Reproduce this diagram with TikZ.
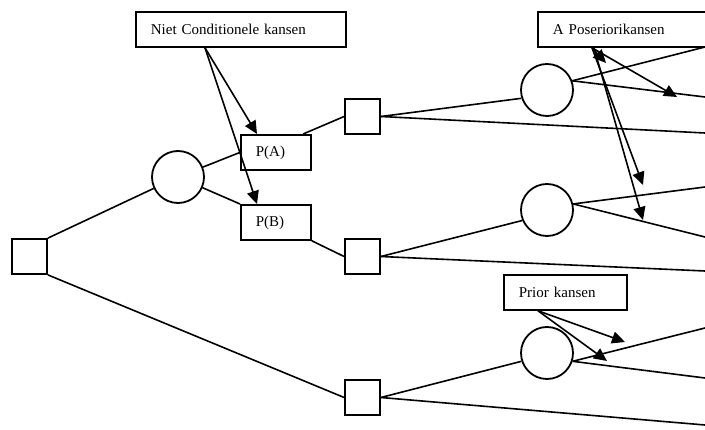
\documentclass[tikz,border=0pt]{standalone}
\usepackage{fontspec}
\setmainfont{Liberation Serif}
\usetikzlibrary{arrows.meta,calc}
\begin{document}
\begin{tikzpicture}[x=1pt,y=-1pt,
        lijn/.style={line width=1.6pt},
        beslis/.style={draw,line width=1.8pt,minimum size=35pt,inner sep=0pt},
        kans/.style={draw,circle,line width=1.8pt,minimum size=52pt,inner sep=0pt},
        kader/.style={draw,line width=1.8pt,minimum height=35pt,inner xsep=15pt,
            inner ysep=0pt,align=left,anchor=north west,
            font=\fontsize{15}{18}\selectfont},
        pijl/.style={line width=1.6pt,-{Triangle[length=13pt,width=12pt]}}]
    \useasboundingbox (0,0) rectangle (705,430);
    \clip (0,0) rectangle (705,430);
    % beslissingen en kansknopen
    \node[beslis] (root) at (29.5,256.5) {};
    \node[kans] (c1) at (178,177) {};
    \node[kader,text width=40pt] (pa) at (240,134) {P(A)};
    \node[kader,text width=40pt] (pb) at (240,204) {P(B)};
    \node[beslis] (s2) at (362.5,116.5) {};
    \node[beslis] (s3) at (362.5,256.5) {};
    \node[beslis] (s4) at (362.5,397.5) {};
    \node[kans] (c2) at (547,90) {};
    \node[kans] (c3) at (547,210) {};
    \node[kans] (c4) at (547,353) {};
    % uitkomsten aan de rand
    \coordinate (e1) at (705,47);
    \coordinate (e2) at (705,97);
    \coordinate (e3) at (705,133);
    \coordinate (e4) at (705,187);
    \coordinate (e5) at (705,237);
    \coordinate (e6) at (705,271);
    \coordinate (e7) at (705,328);
    \coordinate (e8) at (705,378);
    \coordinate (e9) at (705,425);
    % takken
    \draw[lijn] (root.north east) -- (c1);
    \draw[lijn] (root.south east) -- (s4.west);
    \draw[lijn] (c1) -- (pa.west);
    \draw[lijn] (c1) -- (pb.north west);
    \draw[lijn] (pa.34) -- (s2.west);
    \draw[lijn] (pb.south east) -- (s3.west);
    \draw[lijn] (s2.east) -- (c2.198);
    \draw[lijn] (s2.east) -- (e3);
    \draw[lijn] (c2.20) -- (e1);
    \draw[lijn] (c2.20) -- (e2);
    \draw[lijn] (s3.east) -- (c3.203);
    \draw[lijn] (s3.east) -- (e6);
    \draw[lijn] (c3.13) -- (e4);
    \draw[lijn] (c3.13) -- (e5);
    \draw[lijn] (s4.east) -- (c4.198);
    \draw[lijn] (s4.east) -- (e9);
    \draw[lijn] (c4.342) -- (e7);
    \draw[lijn] (c4.342) -- (e8);
    % toelichtingen
    \node[kader,text width=180pt] (nck) at (135,11) {Niet Conditionele kansen};
    \node[kader,text width=180pt] (apk) at (537,11) {A Poseriorikansen};
    \node[kader,text width=93pt] (pk) at (503,274) {Prior kansen};
    \coordinate (t1) at (606,63);
    \coordinate (t2) at (677,97);
    \coordinate (t3) at (643,185);
    \coordinate (t4) at (643,220);
    \coordinate (t5) at (625,342);
    \coordinate (t6) at (607,361);
    \draw[pijl] ($(nck.south west)+(70,0)$) -- ($(pa.north west)+(17,0)$);
    \draw[pijl] ($(nck.south west)+(70,0)$) -- ($(pb.north west)+(17,0)$);
    \draw[pijl] ($(apk.south west)+(55,0)$) -- (t1);
    \draw[pijl] ($(apk.south west)+(55,0)$) -- (t2);
    \draw[pijl] ($(apk.south west)+(55,0)$) -- (t3);
    \draw[pijl] ($(apk.south west)+(57,0)$) -- (t4);
    \draw[pijl] ($(pk.south west)+(35,0)$) -- (t5);
    \draw[pijl] ($(pk.south west)+(35,0)$) -- (t6);
\end{tikzpicture}
\end{document}
